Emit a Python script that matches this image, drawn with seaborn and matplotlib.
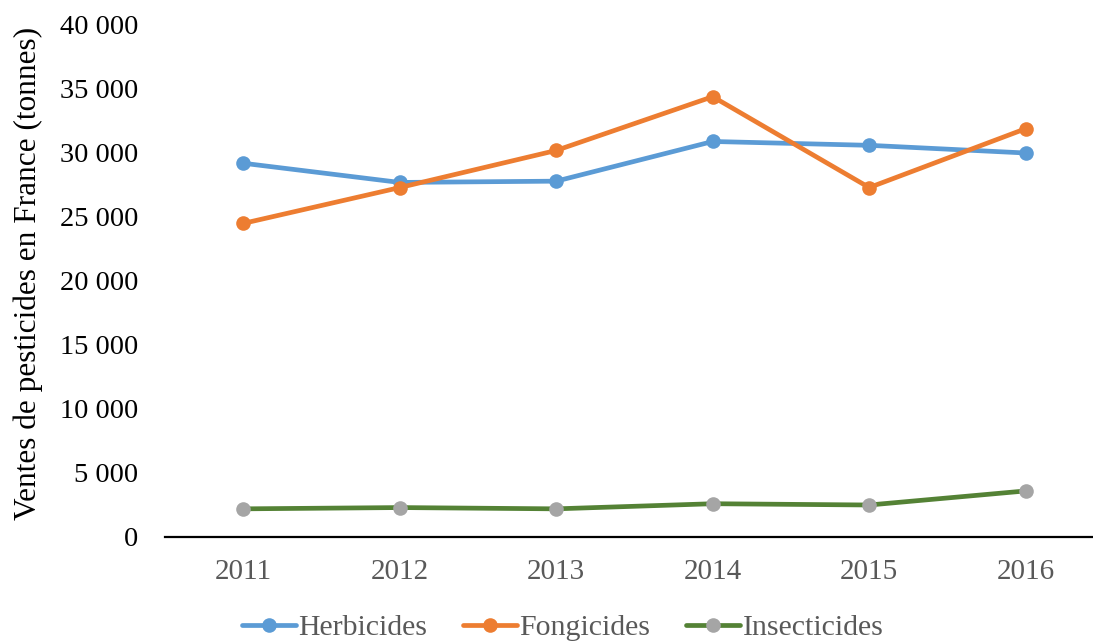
import matplotlib
matplotlib.use("Agg")
import matplotlib.pyplot as plt
import seaborn as sns
import pandas as pd
from matplotlib.ticker import FuncFormatter

years = [2011, 2012, 2013, 2014, 2015, 2016]
herbicides = [29200, 27700, 27800, 30900, 30600, 30000]
fongicides = [24500, 27300, 30200, 34400, 27300, 31900]
insecticides = [2200, 2300, 2200, 2600, 2500, 3600]
series_names = ["Herbicides", "Fongicides", "Insecticides"]
ylabel = "Ventes de pesticides en France (tonnes)"

sns.set_theme(style="white")
plt.rcParams['font.family'] = ['Liberation Serif', 'DejaVu Serif']

fig = plt.figure(figsize=(10.93, 6.44), dpi=100)
ax = fig.add_axes([165/1093, (644-537)/644, 1 - 165/1093, (537-25)/644])

styles = [
    dict(color="#5B9BD5", markerfacecolor="#5B9BD5"),
    dict(color="#ED7D31", markerfacecolor="#ED7D31"),
    dict(color="#548235", markerfacecolor="#A5A5A5"),
]
for name, vals, st in zip(series_names, [herbicides, fongicides, insecticides], styles):
    df = pd.DataFrame({"year": years, "value": vals})
    sns.lineplot(data=df, x="year", y="value", ax=ax, color=st["color"],
                 marker="o", markersize=10.5, markerfacecolor=st["markerfacecolor"],
                 markeredgecolor=st["markerfacecolor"], markeredgewidth=0,
                 linewidth=3.4, label=name, sort=False)

ax.set_xlim(2010.5, 2016.43)
ax.set_ylim(0, 40000)
ax.set_yticks(range(0, 40001, 5000))
ax.yaxis.set_major_formatter(FuncFormatter(lambda v, p: f"{int(v):,}".replace(",", " ")))
ax.set_xticks(years)
ax.set_xticklabels([str(y) for y in years])
ax.tick_params(axis="y", length=0, pad=19, labelsize=20.5, labelcolor="black")
ax.tick_params(axis="x", length=0, pad=16, labelsize=21, labelcolor="#595959")
for s in ["left", "right", "top"]:
    ax.spines[s].set_visible(False)
ax.spines["bottom"].set_color("black")
ax.spines["bottom"].set_linewidth(1.6)
ax.grid(False)
ax.set_xlabel("")
ax.set_ylabel(ylabel, fontsize=22.5, color="black")
ax.yaxis.set_label_coords(-0.131, 0.515)

leg = ax.legend(loc="center", bbox_to_anchor=(0.515, 0.025), bbox_transform=fig.transFigure,
                ncol=3, frameon=False, fontsize=21.5, handlelength=1.8, columnspacing=1.2,
                handletextpad=0.08, borderpad=0)
for t in leg.get_texts():
    t.set_color("#595959")

fig.savefig("out.png", dpi=100)
